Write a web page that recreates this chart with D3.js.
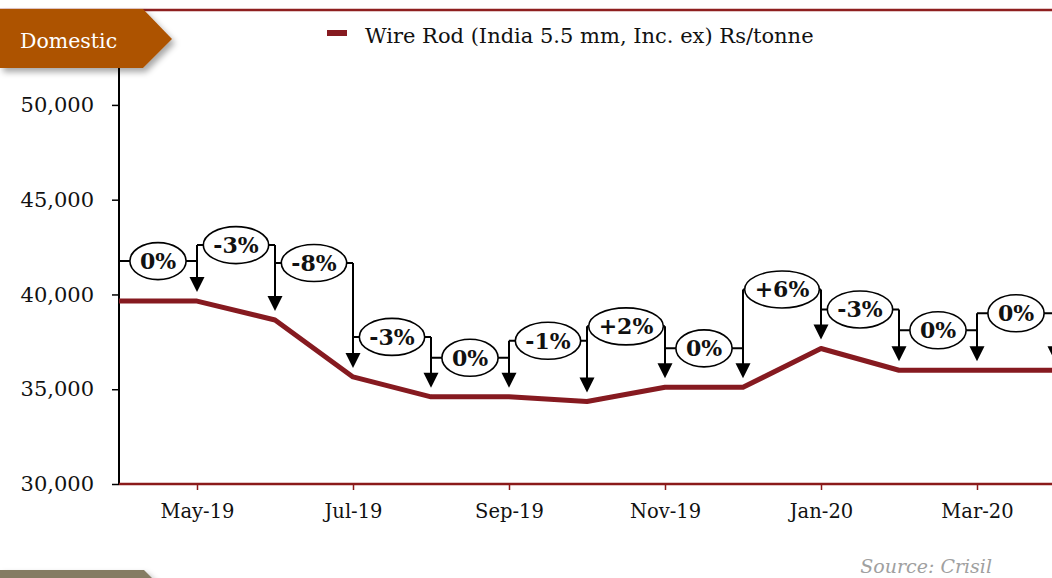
<!DOCTYPE html>
<html>
<head>
<meta charset="utf-8">
<script src="https://cdn.jsdelivr.net/npm/d3@7"></script>
<style>
    html, body { margin: 0; padding: 0; background: #fff; }
    svg { display: block; }
</style>
</head>
<body>
<div id="chart"></div>
<script>
const months = ['Apr-19', 'May-19', 'Jun-19', 'Jul-19', 'Aug-19', 'Sep-19', 'Oct-19',
    'Nov-19', 'Dec-19', 'Jan-20', 'Feb-20', 'Mar-20', 'Apr-20'];
const wireRod = [39650, 39650, 38650, 35650, 34600, 34600, 34350, 35100, 35100, 37150, 36000, 36000, 36000];
const changes = ['0%', '-3%', '-8%', '-3%', '0%', '-1%', '+2%', '0%', '+6%', '-3%', '0%', '0%'];
const yTicks = [30000, 35000, 40000, 45000, 50000];
const tickMonths = ['May-19', 'Jul-19', 'Sep-19', 'Nov-19', 'Jan-20', 'Mar-20'];
const seriesName = 'Wire Rod (India 5.5 mm, Inc. ex) Rs/tonne';

// how far each callout sits above the higher of its two points (px)
const calloutLift = [40, 56, 57, 40, 39, 56, 61, 39, 59, 39, 40, 57];

function chart() {
    const width = 1052;
    const height = 578;
    const serif = "'DejaVu Serif', Georgia, serif";

    const svg = d3.select('#chart')
        .append('svg')
        .attr('width', width)
        .attr('height', height);

    const defs = svg.append('defs');
    defs.append('filter')
        .attr('id', 'shadow')
        .attr('x', '-20%').attr('y', '-20%')
        .attr('width', '150%').attr('height', '170%')
        .append('feDropShadow')
        .attr('dx', 3).attr('dy', 4)
        .attr('stdDeviation', 3)
        .attr('flood-color', '#000')
        .attr('flood-opacity', 0.35);

    const x = d3.scalePoint()
        .domain(months)
        .range([119, 1055]);

    const y = d3.scaleLinear()
        .domain([30000, 52000])
        .range([484, 67]);

    // top rule
    svg.append('line')
        .attr('x1', 0).attr('x2', width)
        .attr('y1', 10).attr('y2', 10)
        .attr('stroke', '#8e1f1f')
        .attr('stroke-width', 2.5);

    // y axis
    const yAxis = svg.append('g')
        .attr('transform', `translate(${x(months[0])},0)`)
        .call(d3.axisLeft(y).tickValues(yTicks).tickSize(7).tickPadding(18)
            .tickFormat(d3.format(',')));
    yAxis.select('.domain')
        .attr('d', `M0,${y(52000)}V${y(30000)}`)
        .attr('stroke', '#000')
        .attr('stroke-width', 2);
    yAxis.selectAll('.tick line').attr('stroke', '#000').attr('stroke-width', 1.5);
    yAxis.selectAll('.tick text')
        .attr('fill', '#111')
        .style('font-family', serif)
        .style('font-size', '21px');

    // x axis
    const xAxis = svg.append('g')
        .attr('transform', `translate(0,${y(30000)})`)
        .call(d3.axisBottom(x).tickValues(tickMonths).tickSize(6).tickPadding(14).tickSizeOuter(0));
    xAxis.select('.domain')
        .attr('d', `M${x(months[0])},0H${width}`)
        .attr('stroke', '#8b1a1a')
        .attr('stroke-width', 2.5);
    xAxis.selectAll('.tick line').attr('stroke', '#8b1a1a').attr('stroke-width', 1.5);
    xAxis.selectAll('.tick text')
        .attr('fill', '#111')
        .attr('dy', '0.71em')
        .style('font-family', serif)
        .style('font-size', '19.5px');

    // series line
    const line = d3.line()
        .x((d, i) => x(months[i]))
        .y((d) => y(d));

    svg.append('path')
        .datum(wireRod)
        .attr('fill', 'none')
        .attr('stroke', '#861a20')
        .attr('stroke-width', 5)
        .attr('stroke-linejoin', 'round')
        .attr('d', line);

    // callouts
    const calloutY = changes.map((c, i) => Math.min(y(wireRod[i]), y(wireRod[i + 1])) - calloutLift[i]);
    const ann = svg.append('g');

    // arrows at each point
    months.slice(1).forEach((m, k) => {
        const i = k + 1;
        const px = x(m);
        const top = i < changes.length ? Math.min(calloutY[i - 1], calloutY[i]) : calloutY[i - 1];
        const tip = y(wireRod[i]) - 9;
        ann.append('line')
            .attr('x1', px).attr('x2', px)
            .attr('y1', top).attr('y2', tip - 12)
            .attr('stroke', '#000')
            .attr('stroke-width', 2);
        ann.append('path')
            .attr('d', `M${px - 7.5},${tip - 15}L${px + 7.5},${tip - 15}L${px},${tip}Z`)
            .attr('fill', '#000');
    });

    const step = x.step();
    changes.forEach((c, i) => {
        const x0 = x(months[i]);
        const x1 = x(months[i + 1]);
        const cy = calloutY[i];
        const g = ann.append('g');
        g.append('line')
            .attr('x1', x0).attr('x2', x1)
            .attr('y1', cy).attr('y2', cy)
            .attr('stroke', '#000')
            .attr('stroke-width', 2);
        const el = g.append('ellipse')
            .attr('cx', (x0 + x1) / 2)
            .attr('cy', cy)
            .attr('ry', 18.5)
            .attr('fill', '#fff')
            .attr('stroke', '#000')
            .attr('stroke-width', 1.6);
        const t = g.append('text')
            .attr('x', (x0 + x1) / 2)
            .attr('y', cy)
            .attr('dy', '0.36em')
            .attr('text-anchor', 'middle')
            .style('font-family', serif)
            .style('font-weight', 'bold')
            .style('font-size', '22px')
            .attr('fill', '#111')
            .text(c);
        const tw = t.node().getComputedTextLength();
        el.attr('rx', Math.min(tw / 2 + 10, step / 2));
    });

    // legend
    const legend = svg.append('g');
    legend.append('line')
        .attr('x1', 327).attr('x2', 347)
        .attr('y1', 33).attr('y2', 33)
        .attr('stroke', '#861a20')
        .attr('stroke-width', 6);
    legend.append('text')
        .attr('x', 365)
        .attr('y', 43)
        .style('font-family', serif)
        .style('font-size', '21px')
        .attr('fill', '#111')
        .text(seriesName);

    // Domestic tab
    const tab = svg.append('g');
    tab.append('path')
        .attr('d', 'M0,9H143L172,39L143,68H0Z')
        .attr('fill', '#ad5300')
        .attr('filter', 'url(#shadow)');
    tab.append('text')
        .attr('x', 20)
        .attr('y', 48)
        .style('font-family', serif)
        .style('font-size', '20.5px')
        .attr('fill', '#fff')
        .text('Domestic');

    // bottom tab edge
    svg.append('path')
        .attr('d', 'M0,570H144L156,582H0Z')
        .attr('fill', '#857c63')
        .attr('filter', 'url(#shadow)');

    svg.append('text')
        .attr('x', 992)
        .attr('y', 573)
        .attr('text-anchor', 'end')
        .style('font-family', serif)
        .style('font-style', 'italic')
        .style('font-size', '19px')
        .attr('fill', '#a0a0a0')
        .text('Source: Crisil');
}

chart();
</script>
</body>
</html>
